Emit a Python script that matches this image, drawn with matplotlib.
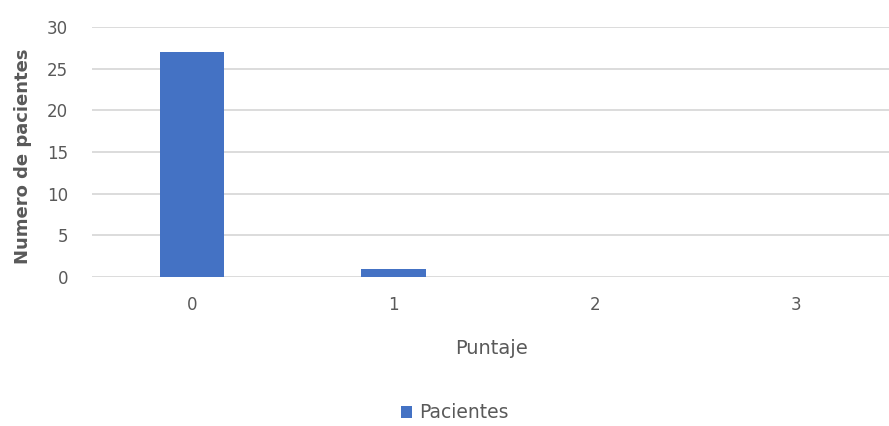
import matplotlib.pyplot as plt
import numpy as np

# Puntaje distribution
puntajes = ["0", "1", "2", "3"]
pacientes = [27, 1, 0, 0]

plt.rcParams['font.family'] = ['DejaVu Sans']

fig = plt.figure(figsize=(8.89, 4.26), dpi=100)
ax = fig.add_axes([91.5 / 889, 1 - 277 / 426, 805 / 889, 250 / 426])

x = np.arange(len(puntajes))
ax.bar(x, pacientes, width=0.32, color="#4472C4", zorder=3, label="Pacientes")

ax.set_xlim(-0.5, 3.5)
ax.set_ylim(0, 30)
ax.set_yticks(range(0, 31, 5))
ax.set_xticks(x)
ax.set_xticklabels(puntajes)
ax.grid(axis="y", color="#d9d9d9", linewidth=1.3, zorder=0)
for s in ax.spines.values():
    s.set_visible(False)
ax.tick_params(axis="both", length=0, labelsize=12, labelcolor="#595959")
ax.tick_params(axis="x", pad=14)
ax.tick_params(axis="y", pad=17)

fig.text(492 / 889, 1 - 349 / 426, "Puntaje", ha="center", va="center",
         fontsize=14, color="#595959")
fig.text(23 / 889, 1 - 156 / 426, "Numero de pacientes", ha="center", va="center",
         rotation=90, fontsize=13, fontweight="bold", color="#595959")

fig.legend(loc="center", bbox_to_anchor=(455 / 889, 1 - 413 / 426), frameon=False,
           fontsize=13.5, labelcolor="#595959", handlelength=0.55, handleheight=0.55,
           handletextpad=0.4)

fig.savefig("out.png", dpi=100)
